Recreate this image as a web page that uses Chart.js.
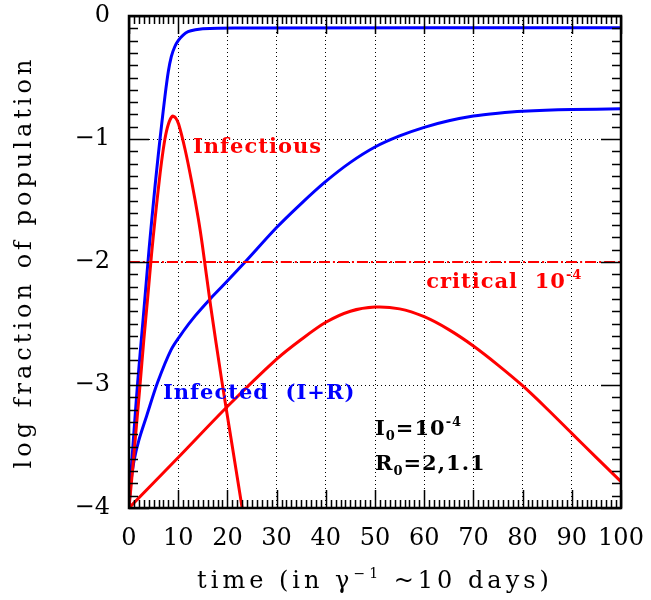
<!DOCTYPE html>
<html>
<head>
<meta charset="utf-8">
<title>log fraction of population</title>
<script src="https://cdn.jsdelivr.net/npm/chart.js@4.4.1/dist/chart.umd.min.js"></script>
<style>
  html, body { margin: 0; padding: 0; background: #fff; }
  #wrap { width: 651px; height: 600px; }
</style>
</head>
<body>
<div id="wrap"><canvas id="grafico"></canvas></div>
<script>
// valores: tempo (em 1/gamma) e log10 da fração da população

// R0 = 2, infectados acumulados (I+R)
const tRapidoIR = [0, 0.4, 0.88, 1.76, 2.9, 4.07, 4.6, 5.3, 5.95, 6.6, 7.3, 8.0, 8.6, 9.3, 10, 11, 12, 13.5, 15, 18, 25, 100];
const vRapidoIR = [-4, -3.72, -3.45, -2.98, -2.45, -1.90, -1.67, -1.38, -1.13, -0.895, -0.655, -0.45, -0.33, -0.25, -0.20, -0.155, -0.128, -0.112, -0.104, -0.099, -0.097, -0.096];

// R0 = 2, infecciosos (I)
const tRapidoI = [0, 0.7, 1.36, 2.24, 3.0, 3.8, 4.6, 5.3, 5.95, 6.6, 7.3, 8.0, 8.8, 9.5, 10.1, 11.4, 12.8, 14.1, 14.9, 16.6, 18.8, 21.0, 23.0];
const vRapidoI = [-4, -3.70, -3.40, -3.0, -2.64, -2.29, -1.93, -1.65, -1.41, -1.19, -1.0, -0.88, -0.815, -0.83, -0.88, -1.085, -1.36, -1.65, -1.86, -2.36, -2.95, -3.50, -4.0];

// R0 = 1.1, infectados acumulados (I+R)
const tLentoIR = [0, 0.3, 1, 2, 3.6, 5.8, 8.6, 11, 13.4, 16.5, 19.5, 23.6, 30, 35, 40, 45, 50, 55, 60, 65, 70, 75, 80, 90, 100];
const vLentoIR = [-4, -3.82, -3.62, -3.45, -3.25, -2.98, -2.71, -2.565, -2.44, -2.30, -2.175, -2.0, -1.72, -1.525, -1.345, -1.19, -1.065, -0.975, -0.905, -0.852, -0.813, -0.79, -0.775, -0.761, -0.755];

// R0 = 1.1, infecciosos (I)
const tLentoI = [0, 10, 20, 30, 35, 40, 45, 50, 55, 60, 65, 70, 75, 80, 85, 90, 95, 100];
const vLentoI = [-4, -3.59, -3.175, -2.79, -2.63, -2.49, -2.40, -2.366, -2.381, -2.445, -2.55, -2.683, -2.838, -3.006, -3.195, -3.393, -3.59, -3.786];

// nível crítico
const tCritico = [0, 100];
const vCritico = [-2, -2];

const ticksX = [0, 10, 20, 30, 40, 50, 60, 70, 80, 90, 100];
const ticksY = [0, -1, -2, -3, -4];

const AZUL = '#0000ff';
const VERMELHO = '#ff0000';

function pontos(ts, vs) {
  return ts.map((t, i) => ({ x: t, y: vs[i] }));
}

function curva(ts, vs, cor) {
  return {
    data: pontos(ts, vs),
    borderColor: cor,
    borderWidth: 3,
    pointRadius: 0,
    fill: false,
    tension: 0.3
  };
}

// texto com sobrescritos / subscritos, partes desenhadas em sequência
function textoRico(ctx, partes, x, y, alinhar) {
  let total = 0;
  partes.forEach(p => {
    ctx.font = p.font;
    total += ctx.measureText(p.t).width;
  });
  let cx = alinhar === 'center' ? x - total / 2 : x;
  partes.forEach(p => {
    ctx.font = p.font;
    ctx.fillText(p.t, cx, y + (p.dy || 0));
    cx += ctx.measureText(p.t).width;
  });
}

const moldura = {
  id: 'moldura',
  afterDatasetsDraw(chart) {
    const { ctx, chartArea: a, scales: { x, y } } = chart;
    ctx.save();

    // marcas internas nos quatro lados
    ctx.strokeStyle = '#000';
    ctx.lineWidth = 1.5;
    ctx.beginPath();
    for (let i = 0; i <= 100; i++) {
      const px = Math.round(x.getPixelForValue(i)) + 0.5;
      const len = i % 10 === 0 ? 18 : 8;
      ctx.moveTo(px, a.bottom); ctx.lineTo(px, a.bottom - len);
      ctx.moveTo(px, a.top); ctx.lineTo(px, a.top + len);
    }
    for (let i = 0; i <= 40; i++) {
      const py = Math.round(y.getPixelForValue(-i / 10)) + 0.5;
      const len = i % 10 === 0 ? 20 : 9;
      ctx.moveTo(a.left, py); ctx.lineTo(a.left + len, py);
      ctx.moveTo(a.right, py); ctx.lineTo(a.right - len, py);
    }
    ctx.stroke();
    ctx.lineWidth = 2.5;
    ctx.strokeRect(a.left, a.top, a.right - a.left, a.bottom - a.top);

    // rótulos dentro do gráfico
    const bold = 'bold 21px "DejaVu Serif"';
    const sup = 'bold 13px "DejaVu Serif"';
    ctx.textBaseline = 'alphabetic';
    ctx.textAlign = 'left';
    ctx.letterSpacing = '1px';

    ctx.fillStyle = VERMELHO;
    textoRico(ctx, [{ t: 'Infectious', font: bold }], x.getPixelForValue(13), y.getPixelForValue(-1.11));
    textoRico(ctx, [
      { t: 'critical  10', font: bold },
      { t: '-4', font: sup, dy: -9 }
    ], x.getPixelForValue(60.4), y.getPixelForValue(-2.215));

    ctx.fillStyle = AZUL;
    textoRico(ctx, [{ t: 'Infected  (I+R)', font: bold }], x.getPixelForValue(6.9), y.getPixelForValue(-3.11));

    ctx.fillStyle = '#000';
    textoRico(ctx, [
      { t: 'I', font: bold },
      { t: '0', font: sup, dy: 5 },
      { t: '=10', font: bold },
      { t: '-4', font: sup, dy: -9 }
    ], x.getPixelForValue(50), y.getPixelForValue(-3.41));
    textoRico(ctx, [
      { t: 'R', font: bold },
      { t: '0', font: sup, dy: 5 },
      { t: '=2,1.1', font: bold }
    ], x.getPixelForValue(50), y.getPixelForValue(-3.687));

    // títulos dos eixos
    ctx.fillStyle = '#000';
    ctx.letterSpacing = '4px';
    const tit = '24px "DejaVu Serif"';
    textoRico(ctx, [
      { t: 'time (in γ', font: tit },
      { t: '−1', font: '14px "DejaVu Serif"', dy: -10 },
      { t: ' ~10 days)', font: tit }
    ], (a.left + a.right) / 2, 588, 'center');

    ctx.translate(25, (a.top + a.bottom) / 2);
    ctx.rotate(-Math.PI / 2);
    ctx.textBaseline = 'middle';
    textoRico(ctx, [{ t: 'log fraction of population', font: tit }], 0, 0, 'center');

    ctx.restore();
  }
};

function criarGrafico() {
  const ctx = document.getElementById('grafico').getContext('2d');
  const critico = curva(tCritico, vCritico, VERMELHO);
  critico.borderWidth = 2;
  critico.borderDash = [11, 3, 2, 3];

  new Chart(ctx, {
    type: 'line',
    data: {
      datasets: [
        critico,
        curva(tLentoI, vLentoI, VERMELHO),
        curva(tRapidoI, vRapidoI, VERMELHO),
        curva(tLentoIR, vLentoIR, AZUL),
        curva(tRapidoIR, vRapidoIR, AZUL)
      ]
    },
    options: {
      responsive: true,
      maintainAspectRatio: false,
      animation: false,
      events: [],
      layout: { padding: { left: 0, top: 16, right: 30, bottom: 0 } },
      plugins: { legend: { display: false }, tooltip: { enabled: false } },
      scales: {
        x: {
          type: 'linear',
          min: 0,
          max: 100,
          afterFit(s) { s.height = 92; s.paddingLeft = 0; s.paddingRight = 0; },
          afterBuildTicks(s) { s.ticks = ticksX.map(v => ({ value: v })); },
          ticks: { font: { family: 'DejaVu Serif', size: 24 }, color: '#000', padding: 16, maxRotation: 0 },
          grid: { color: '#000', lineWidth: 1, drawTicks: false },
          border: { display: false, dash: [1, 3] }
        },
        y: {
          type: 'linear',
          min: -4,
          max: 0,
          afterFit(s) { s.width = 129; s.paddingTop = 0; s.paddingBottom = 0; },
          afterBuildTicks(s) { s.ticks = ticksY.map(v => ({ value: v })); },
          ticks: {
            font: { family: 'DejaVu Serif', size: 24 },
            color: '#000',
            padding: 19,
            callback: v => (v === 0 ? '0' : '−' + Math.abs(v))
          },
          grid: { color: '#000', lineWidth: 1, drawTicks: false },
          border: { display: false, dash: [1, 3] }
        }
      }
    },
    plugins: [moldura]
  });
}

window.onload = () => {
  criarGrafico();
};
</script>
</body>
</html>
